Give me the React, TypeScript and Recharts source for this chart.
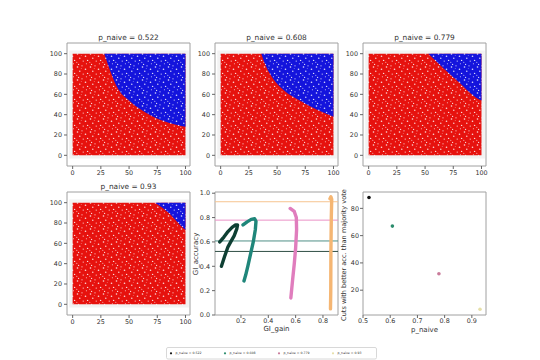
import React from 'react';
import { ComposedChart, Area, Line, Scatter, XAxis, YAxis, ReferenceArea, ReferenceLine } from 'recharts';

// p_naive of the four cut panels
const pNaive = [0.522, 0.608, 0.779, 0.93];

// extent of the point cloud in every scatter panel
const cloudExtent = [0, 100];

// red / blue border in each scatter panel (blue lies above)
const boundary522 = [
  { x: 28, y: 100 }, { x: 33, y: 84 }, { x: 39, y: 68 }, { x: 51, y: 53 },
  { x: 65, y: 42 }, { x: 80, y: 34 }, { x: 100, y: 28 },
];
const boundary608 = [
  { x: 36, y: 100 }, { x: 40, y: 88 }, { x: 46, y: 76 }, { x: 56, y: 64 },
  { x: 70, y: 54 }, { x: 85, y: 45 }, { x: 100, y: 38 },
];
const boundary779 = [
  { x: 53, y: 100 }, { x: 66, y: 86 }, { x: 81, y: 71 }, { x: 95, y: 57 }, { x: 100, y: 54 },
];
const boundary93 = [
  { x: 73, y: 100 }, { x: 86, y: 89 }, { x: 96, y: 77 }, { x: 100, y: 73 },
];

const scatterTicksX = [0, 25, 50, 75, 100];
const scatterTicksY = [0, 20, 40, 60, 80, 100];

// GI_gain vs GI_accuracy traces
const gi522 = [
  { x: 0.045, y: 0.6 }, { x: 0.075, y: 0.64 }, { x: 0.105, y: 0.685 }, { x: 0.135, y: 0.72 },
  { x: 0.16, y: 0.74 }, { x: 0.175, y: 0.74 }, { x: 0.17, y: 0.71 }, { x: 0.15, y: 0.65 },
  { x: 0.125, y: 0.6 }, { x: 0.105, y: 0.56 }, { x: 0.08, y: 0.48 }, { x: 0.057, y: 0.4 },
];
const gi608 = [
  { x: 0.215, y: 0.74 }, { x: 0.245, y: 0.765 }, { x: 0.275, y: 0.785 }, { x: 0.3, y: 0.79 },
  { x: 0.31, y: 0.77 }, { x: 0.305, y: 0.7 }, { x: 0.29, y: 0.6 }, { x: 0.27, y: 0.5 },
  { x: 0.25, y: 0.4 }, { x: 0.235, y: 0.33 }, { x: 0.222, y: 0.28 },
];
const gi779 = [
  { x: 0.56, y: 0.875 }, { x: 0.59, y: 0.85 }, { x: 0.605, y: 0.8 }, { x: 0.607, y: 0.7 },
  { x: 0.6, y: 0.55 }, { x: 0.59, y: 0.42 }, { x: 0.578, y: 0.29 }, { x: 0.565, y: 0.14 },
];
const gi93 = [
  { x: 0.851, y: 0.955 }, { x: 0.858, y: 0.97 }, { x: 0.864, y: 0.95 }, { x: 0.861, y: 0.8 },
  { x: 0.858, y: 0.5 }, { x: 0.857, y: 0.2 }, { x: 0.855, y: 0.05 },
];
const giTicksX = [0.2, 0.4, 0.6, 0.8];
const giTicksY = [0, 0.2, 0.4, 0.6, 0.8, 1.0];

// cuts with better accuracy than majority vote
const betterCuts = [88, 67, 32, 6];
const cutTicksX = [0.5, 0.6, 0.7, 0.8, 0.9];
const cutTicksY = [20, 40, 60, 80];

const curveColors = ['#0e3f33', '#1f867a', '#e07dbd', '#f5b673'];
const hlineColors = ['#2e4d43', '#4f9086', '#ea92c6', '#f6c490'];
const dotColors = ['#111111', '#2b8c6c', '#c97b9a', '#e6dfa8'];

const FONT = '"DejaVu Sans", sans-serif';
const FW = 123;
const FH = 123;
const YW = 30;
const TM = 4;
const RM = 6;
const XH = 14;

const tick = { fontSize: 6.4, fill: '#333', fontFamily: FONT };
const tickLine = { stroke: '#666' };

const Label = ({ x, y, text, size = 7, rotate = false }: { x: number; y: number; text: string; size?: number; rotate?: boolean }) => (
  <div
    style={{
      position: 'absolute', left: x, top: y, fontFamily: FONT, fontSize: size, color: '#333',
      whiteSpace: 'nowrap', lineHeight: 1,
      transform: `translate(-50%, -50%)${rotate ? ' rotate(-90deg)' : ''}`,
    }}
  >
    {text}
  </div>
);

// speckled fill standing in for the dense cloud of dots
const specks = [
  [1.5, 2, 0.8], [6, 0.8, 0.6], [9.5, 4.2, 0.8], [3.8, 6.3, 0.7], [7.2, 9.1, 0.6],
  [0.8, 10.2, 0.5], [11.6, 8.4, 0.7], [5.2, 3.6, 0.4], [10.4, 11.8, 0.5], [2.6, 12.4, 0.6],
];
const Speckle = ({ id, color }: { id: string; color: string }) => (
  <pattern id={id} width={13} height={13} patternUnits="userSpaceOnUse">
    <rect width={13} height={13} fill={color} />
    {specks.map(([cx, cy, r], i) => (
      <circle key={i} cx={cx} cy={cy} r={r} fill="#fff" fillOpacity={0.85} />
    ))}
  </pattern>
);

const sxDomain = [-5, 104];
const syDomain = [-10.5, 110.5];

const CutPanel = ({ left, top, boundary, id }: { left: number; top: number; boundary: { x: number; y: number }[]; id: string }) => (
  <div style={{ position: 'absolute', left: left - YW, top: top - TM }}>
    <ComposedChart width={YW + FW + RM} height={TM + FH + XH} data={boundary} margin={{ top: TM, right: RM, left: 0, bottom: 0 }}>
      <defs>
        <Speckle id={`red${id}`} color="#e6120e" />
        <Speckle id={`blue${id}`} color="#1414dc" />
      </defs>
      <XAxis type="number" dataKey="x" domain={sxDomain} ticks={scatterTicksX} allowDataOverflow height={XH}
        tickSize={3} tickMargin={1} axisLine={false} tick={tick} tickLine={tickLine} interval={0} />
      <YAxis type="number" domain={syDomain} ticks={scatterTicksY} allowDataOverflow width={YW}
        tickSize={3} tickMargin={2} axisLine={false} tick={tick} tickLine={tickLine} interval={0} />
      <ReferenceArea x1={cloudExtent[0] - 3} x2={cloudExtent[1] + 3} y1={cloudExtent[0] - 3} y2={cloudExtent[1] + 3}
        fill="#f2f2f2" fillOpacity={1} stroke="none" />
      <ReferenceArea x1={cloudExtent[0]} x2={cloudExtent[1]} y1={cloudExtent[0]} y2={cloudExtent[1]}
        fill={`url(#red${id})`} fillOpacity={1} stroke="none" />
      <Area dataKey="y" baseValue={cloudExtent[1]} type="monotone" fill={`url(#blue${id})`} fillOpacity={1}
        stroke="none" dot={false} activeDot={false} isAnimationActive={false} />
      <ReferenceArea x1={sxDomain[0]} x2={sxDomain[1]} y1={syDomain[0]} y2={syDomain[1]} fill="none" stroke="#a0a0a0" />
    </ComposedChart>
  </div>
);

const giX = [0.01, 0.91];
const giY = [0, 1.01];
const giCurves = [gi522, gi608, gi779, gi93];

const GiPanel = ({ left, top }: { left: number; top: number }) => (
  <div style={{ position: 'absolute', left: left - YW, top: top - TM }}>
    <ComposedChart width={YW + FW + RM} height={TM + FH + XH} margin={{ top: TM, right: RM, left: 0, bottom: 0 }}>
      <XAxis type="number" dataKey="x" domain={giX} ticks={giTicksX} allowDataOverflow height={XH}
        tickFormatter={(v: number) => v.toFixed(1)} tickSize={3} tickMargin={0} axisLine={false} tick={tick} tickLine={tickLine} interval={0} />
      <YAxis type="number" domain={giY} ticks={giTicksY} allowDataOverflow width={YW}
        tickFormatter={(v: number) => v.toFixed(1)} tickSize={3} tickMargin={2} axisLine={false} tick={tick} tickLine={tickLine} interval={0} />
      {pNaive.map((p, i) => (
        <ReferenceLine key={p} y={p} stroke={hlineColors[i]} strokeWidth={1} />
      ))}
      {giCurves.map((c, i) => (
        <Line key={i} data={c} dataKey="y" type="linear" stroke={curveColors[i]} strokeWidth={3.4}
          strokeLinecap="round" strokeLinejoin="round" dot={false} activeDot={false} isAnimationActive={false} />
      ))}
      <ReferenceArea x1={giX[0]} x2={giX[1]} y1={giY[0]} y2={giY[1]} fill="none" stroke="#a0a0a0" />
    </ComposedChart>
  </div>
);

const cX = [0.5, 0.952];
const cY = [1.8, 92];

const CutsPanel = ({ left, top }: { left: number; top: number }) => (
  <div style={{ position: 'absolute', left: left - YW, top: top - TM }}>
    <ComposedChart width={YW + FW + RM} height={TM + FH + XH} margin={{ top: TM, right: RM, left: 0, bottom: 0 }}>
      <XAxis type="number" dataKey="x" domain={cX} ticks={cutTicksX} allowDataOverflow height={XH}
        tickFormatter={(v: number) => v.toFixed(1)} tickSize={3} tickMargin={0} axisLine={false} tick={tick} tickLine={tickLine} interval={0} />
      <YAxis type="number" dataKey="y" domain={cY} ticks={cutTicksY} allowDataOverflow width={YW}
        tickSize={3} tickMargin={1} axisLine={false} tick={tick} tickLine={tickLine} interval={0} />
      {pNaive.map((p, i) => (
        <Scatter key={p} data={[{ x: p, y: betterCuts[i] }]} fill={dotColors[i]} isAnimationActive={false}
          shape={(s: any) => <circle cx={s.cx} cy={s.cy} r={1.8} fill={dotColors[i]} />} />
      ))}
      <ReferenceArea x1={cX[0]} x2={cX[1]} y1={cY[0]} y2={cY[1]} fill="none" stroke="#a0a0a0" />
    </ComposedChart>
  </div>
);

const COLS = [67, 215, 363];
const ROWS = [43, 192];

export default function App() {
  const legendStep = 54;
  return (
    <div style={{ position: 'absolute', left: 0, top: 0, width: 540, height: 360, background: '#fff', overflow: 'hidden' }}>
      <CutPanel left={COLS[0]} top={ROWS[0]} boundary={boundary522} id="a" />
      <CutPanel left={COLS[1]} top={ROWS[0]} boundary={boundary608} id="b" />
      <CutPanel left={COLS[2]} top={ROWS[0]} boundary={boundary779} id="c" />
      <CutPanel left={COLS[0]} top={ROWS[1]} boundary={boundary93} id="d" />
      <GiPanel left={COLS[1]} top={ROWS[1]} />
      <CutsPanel left={COLS[2]} top={ROWS[1]} />

      {pNaive.map((p, i) => (
        <Label key={p} x={(i < 3 ? COLS[i] : COLS[0]) + FW / 2} y={i < 3 ? 37.5 : 186.5} size={7.4} text={`p_naive = ${p}`} />
      ))}
      <Label x={COLS[1] + FW / 2} y={329} text="GI_gain" />
      <Label x={COLS[2] + FW / 2} y={329.5} text="p_naive" />
      <Label x={196} y={ROWS[1] + FH / 2} text="GI_accuracy" rotate />
      <Label x={343.5} y={ROWS[1] + FH / 2 + 1} text="Cuts with better acc. than majority vote" size={6.6} rotate />

      <svg style={{ position: 'absolute', left: 166, top: 347 }} width={212} height={13}>
        <rect x={0.5} y={0.5} width={210} height={11.5} rx={1.5} fill="#fff" stroke="#d8d8d8" />
        {pNaive.map((p, i) => (
          <g key={p}>
            <circle cx={5 + i * legendStep} cy={6.3} r={1.1} fill={dotColors[i]} />
            <text x={9.5 + i * legendStep} y={7.4} fontSize={3.2} fontFamily={FONT} fill="#333">{`p_naive = ${p}`}</text>
          </g>
        ))}
      </svg>
    </div>
  );
}
